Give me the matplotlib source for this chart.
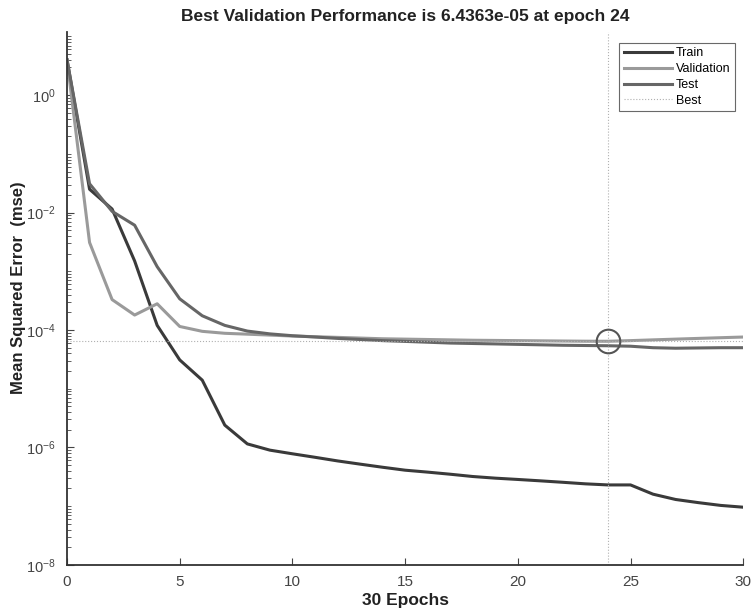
import numpy as np
import matplotlib
matplotlib.use("Agg")
import matplotlib.pyplot as plt
from matplotlib.ticker import FixedLocator, LogLocator, NullFormatter

plt.rcParams['font.family'] = ['Liberation Sans', 'DejaVu Sans']
plt.rcParams['axes.unicode_minus'] = False

# === Data ===
epochs = list(range(31))
train_mse = [4.0, 2.5e-2, 1.15e-2, 1.5e-3, 1.2e-4, 3.1e-5, 1.4e-5, 2.4e-6, 1.15e-6, 9.0e-7,
             7.8e-7, 6.8e-7, 5.9e-7, 5.2e-7, 4.6e-7, 4.1e-7, 3.8e-7, 3.5e-7, 3.2e-7, 3.0e-7,
             2.85e-7, 2.7e-7, 2.55e-7, 2.4e-7, 2.3e-7, 2.3e-7, 1.6e-7, 1.3e-7, 1.15e-7, 1.03e-7,
             9.6e-8]
val_mse = [4.0, 3.1e-3, 3.3e-4, 1.8e-4, 2.8e-4, 1.15e-4, 9.5e-5, 8.8e-5, 8.5e-5, 8.2e-5,
           7.9e-5, 7.7e-5, 7.5e-5, 7.3e-5, 7.1e-5, 7.0e-5, 6.9e-5, 6.8e-5, 6.7e-5, 6.65e-5,
           6.6e-5, 6.55e-5, 6.5e-5, 6.45e-5, 6.4363e-5, 6.6e-5, 6.8e-5, 7.0e-5, 7.2e-5, 7.4e-5,
           7.6e-5]
test_mse = [4.0, 3.1e-2, 1.05e-2, 6.1e-3, 1.2e-3, 3.4e-4, 1.75e-4, 1.2e-4, 9.6e-5, 8.6e-5,
            8.0e-5, 7.6e-5, 7.2e-5, 6.9e-5, 6.6e-5, 6.4e-5, 6.2e-5, 6.0e-5, 5.9e-5, 5.8e-5,
            5.7e-5, 5.6e-5, 5.5e-5, 5.45e-5, 5.4e-5, 5.3e-5, 5.0e-5, 4.9e-5, 4.95e-5, 5.0e-5,
            5.0e-5]
best_epoch = 24
best_val = 6.4363e-05

# === Figure ===
fig = plt.figure(figsize=(7.53, 6.12), dpi=100)
ax = fig.add_axes([0.089, 0.077, 0.898, 0.871])

ax.plot(epochs, train_mse, color='#3a3a3a', lw=2.2, label='Train')
ax.plot(epochs, val_mse, color='#9a9a9a', lw=2.2, label='Validation')
ax.plot(epochs, test_mse, color='#666666', lw=2.2, label='Test')
ax.axvline(best_epoch, color='#b0b0b0', lw=0.8, ls=':', label='Best')
ax.axhline(best_val, color='#b0b0b0', lw=0.8, ls=':')
ax.plot([best_epoch], [best_val], 'o', ms=17, mfc='none', mec='#555555', mew=1.5)

ax.set_yscale('log')
ax.set_xlim(0, 30)
ax.set_ylim(1e-8, 12)
ax.set_xticks(range(0, 31, 5))
ax.yaxis.set_major_locator(FixedLocator([1e-8, 1e-6, 1e-4, 1e-2, 1e0]))
ax.yaxis.set_minor_locator(LogLocator(base=10, subs=np.arange(1, 10), numticks=30))
ax.yaxis.set_minor_formatter(NullFormatter())

for s in ['top', 'right']:
    ax.spines[s].set_visible(False)
for s in ['left', 'bottom']:
    ax.spines[s].set_color('#333333')
    ax.spines[s].set_linewidth(1.3)
ax.tick_params(which='both', direction='in', colors='#444444', labelsize=11)
ax.tick_params(which='major', length=5)
ax.tick_params(which='minor', length=3)
ax.tick_params(axis='x', pad=7)
ax.tick_params(axis='y', pad=8, labelsize=10.5)

ax.set_title('Best Validation Performance is 6.4363e-05 at epoch 24',
             fontsize=12.5, fontweight='bold', color='#222222', pad=8)
ax.set_xlabel('30 Epochs', fontsize=12.5, fontweight='bold', color='#222222', labelpad=3)
ax.set_ylabel('Mean Squared Error  (mse)', fontsize=12, fontweight='bold', color='#222222')
ax.yaxis.set_label_coords(-0.06, 0.52)

leg = ax.legend(loc='upper right', fontsize=9, frameon=True, fancybox=False,
                edgecolor='#444444', borderpad=0.35, handlelength=3.9, handletextpad=0.3,
                labelspacing=0.3, bbox_to_anchor=(0.988, 0.979), borderaxespad=0)
leg.get_frame().set_linewidth(0.8)

fig.savefig('out.png', dpi=100)
